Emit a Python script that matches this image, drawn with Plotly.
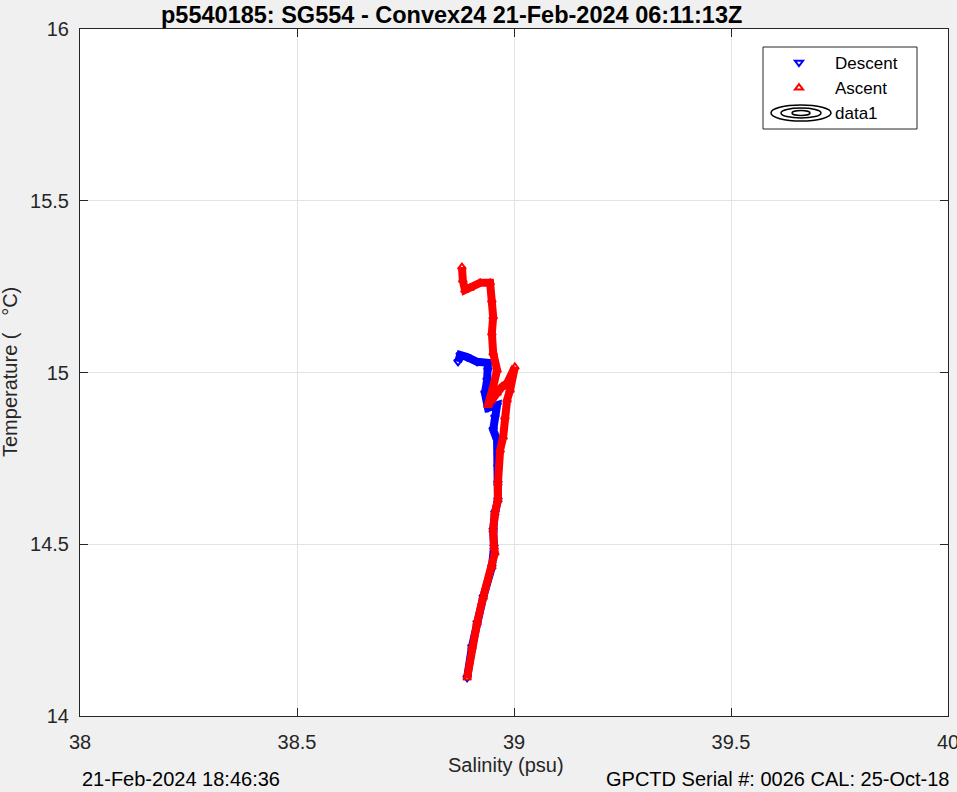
import plotly.graph_objects as go

# ---- data ----
descent_sal = [38.871, 38.876, 38.892, 38.915, 38.940, 38.940, 38.938, 38.933, 38.940,
               38.961, 38.956, 38.952, 38.961, 38.963, 38.963, 38.963, 38.956, 38.952,
               38.954, 38.949, 38.929, 38.915, 38.903, 38.892]
descent_temp = [15.031, 15.051, 15.045, 15.031, 15.028, 15.007, 14.978, 14.940, 14.897,
                14.905, 14.870, 14.833, 14.804, 14.725, 14.678, 14.629, 14.591, 14.541,
                14.492, 14.434, 14.346, 14.271, 14.201, 14.111]

ascent_sal = [38.892, 38.903, 38.915, 38.929, 38.949, 38.956, 38.954, 38.952, 38.956,
              38.963, 38.963, 38.968, 38.975, 38.979, 38.984, 38.991, 39.002, 38.984,
              38.972, 38.961, 38.949, 38.940, 38.952, 38.961, 38.952, 38.949, 38.952,
              38.949, 38.945, 38.922, 38.899, 38.887, 38.882, 38.880]
ascent_temp = [14.111, 14.201, 14.271, 14.346, 14.434, 14.475, 14.492, 14.541, 14.591,
               14.629, 14.678, 14.774, 14.812, 14.870, 14.920, 14.949, 15.016, 14.969,
               14.958, 14.940, 14.920, 14.905, 14.958, 15.007, 15.057, 15.115, 15.162,
               15.211, 15.261, 15.261, 15.246, 15.240, 15.269, 15.307]

x_ticks = [38, 38.5, 39, 39.5, 40]
x_tick_labels = ["38", "38.5", "39", "39.5", "40"]
y_ticks = [14, 14.5, 15, 15.5, 16]
y_tick_labels = ["14", "14.5", "15", "15.5", "16"]

title_text = "p5540185: SG554 - Convex24 21-Feb-2024 06:11:13Z"
date_text = "21-Feb-2024 18:46:36"
serial_text = "GPCTD Serial #: 0026 CAL: 25-Oct-18"

FONT = "Liberation Sans, Arial, sans-serif"
AX = "#262626"

fig = go.Figure()

# thick bands
fig.add_trace(go.Scatter(x=descent_sal, y=descent_temp, mode="lines",
                         line=dict(color="#0000ff", width=8), showlegend=False,
                         hoverinfo="skip"))
fig.add_trace(go.Scatter(x=descent_sal, y=descent_temp, mode="markers", name="Descent",
                         marker=dict(symbol="triangle-down-open", color="#0000ff", size=7,
                                     line=dict(width=2, color="#0000ff"))))
fig.add_trace(go.Scatter(x=ascent_sal, y=ascent_temp, mode="lines",
                         line=dict(color="#ff0000", width=8), showlegend=False,
                         hoverinfo="skip"))
fig.add_trace(go.Scatter(x=ascent_sal, y=ascent_temp, mode="markers", name="Ascent",
                         marker=dict(symbol="triangle-up-open", color="#ff0000", size=7,
                                     line=dict(width=2, color="#ff0000"))))
# placeholder legend entry for the (empty) contour "data1"
fig.add_trace(go.Scatter(x=[None], y=[None], mode="markers", name="data1",
                         marker=dict(color="rgba(0,0,0,0)", size=1)))

W, H = 957, 792
ml, mr, mt, mb = 80, 9, 29, 76
pw = W - ml - mr
ph = H - mt - mb


def px_x(p):
    return (p - ml) / pw


def px_y(p):
    return (H - mb - p) / ph


shapes = []
# legend box (legend itself is transparent so the icon shapes show)
shapes.append(dict(type="rect", xref="paper", yref="paper",
                   x0=px_x(763), x1=px_x(917), y0=px_y(129), y1=px_y(47),
                   fillcolor="white", line=dict(width=1, color=AX), layer="above"))
# ellipse icon for data1 in legend
cx, cy = 801, 113
for hw, hh in [(30, 8), (20, 5), (9, 2.5)]:
    shapes.append(dict(type="circle", xref="paper", yref="paper",
                       x0=px_x(cx - hw), x1=px_x(cx + hw),
                       y0=px_y(cy + hh), y1=px_y(cy - hh),
                       line=dict(color="black", width=1.5), layer="above"))

annotations = [
    dict(text="<b>" + title_text + "</b>", x=px_x(451), y=px_y(0), xref="paper", yref="paper",
         showarrow=False, font=dict(family=FONT, size=23.5, color="black"),
         xanchor="center", yanchor="top"),
    dict(text="Salinity (psu)", x=px_x(506), y=px_y(765), xref="paper", yref="paper",
         showarrow=False, font=dict(family=FONT, size=20, color=AX),
         xanchor="center", yanchor="middle"),
    dict(text="Temperature (   °C)", x=px_x(10), y=px_y(372), xref="paper", yref="paper",
         showarrow=False, textangle=-90, font=dict(family=FONT, size=20, color=AX),
         xanchor="center", yanchor="middle"),
    dict(text=date_text, x=px_x(80), y=px_y(792), xref="paper", yref="paper",
         showarrow=False, font=dict(family=FONT, size=20, color="black"),
         xanchor="left", yanchor="bottom"),
    dict(text=serial_text, x=px_x(951), y=px_y(792), xref="paper", yref="paper",
         showarrow=False, font=dict(family=FONT, size=20, color="black"),
         xanchor="right", yanchor="bottom"),
]

axis_common = dict(
    showgrid=True, gridcolor="#e3e3e3", gridwidth=1,
    showline=True, linecolor=AX, linewidth=1, mirror="ticks",
    ticks="inside", ticklen=8, tickcolor=AX, tickwidth=1,
    tickfont=dict(family=FONT, size=20, color=AX),
    zeroline=False, ticklabeloverflow="allow", automargin=False,
)

fig.update_layout(
    width=W, height=H,
    margin=dict(l=ml, r=mr, t=mt, b=mb, autoexpand=False),
    paper_bgcolor="#f0f0f0",
    plot_bgcolor="white",
    font=dict(family=FONT),
    xaxis=dict(range=[38, 40], tickvals=x_ticks, ticktext=x_tick_labels,
               ticklabelstandoff=8, **axis_common),
    yaxis=dict(range=[14, 16], tickvals=y_ticks, ticktext=y_tick_labels,
               ticklabelstandoff=6, **axis_common),
    legend=dict(x=px_x(763), y=px_y(45), xanchor="left", yanchor="top",
                bgcolor="rgba(0,0,0,0)", borderwidth=0,
                font=dict(family=FONT, size=17, color="black"),
                itemwidth=62, tracegroupgap=0),
    shapes=shapes,
    annotations=annotations,
    showlegend=True,
)

fig.write_html("out.html", config={"displayModeBar": False},
               post_script="document.body.style.margin='0px';")
